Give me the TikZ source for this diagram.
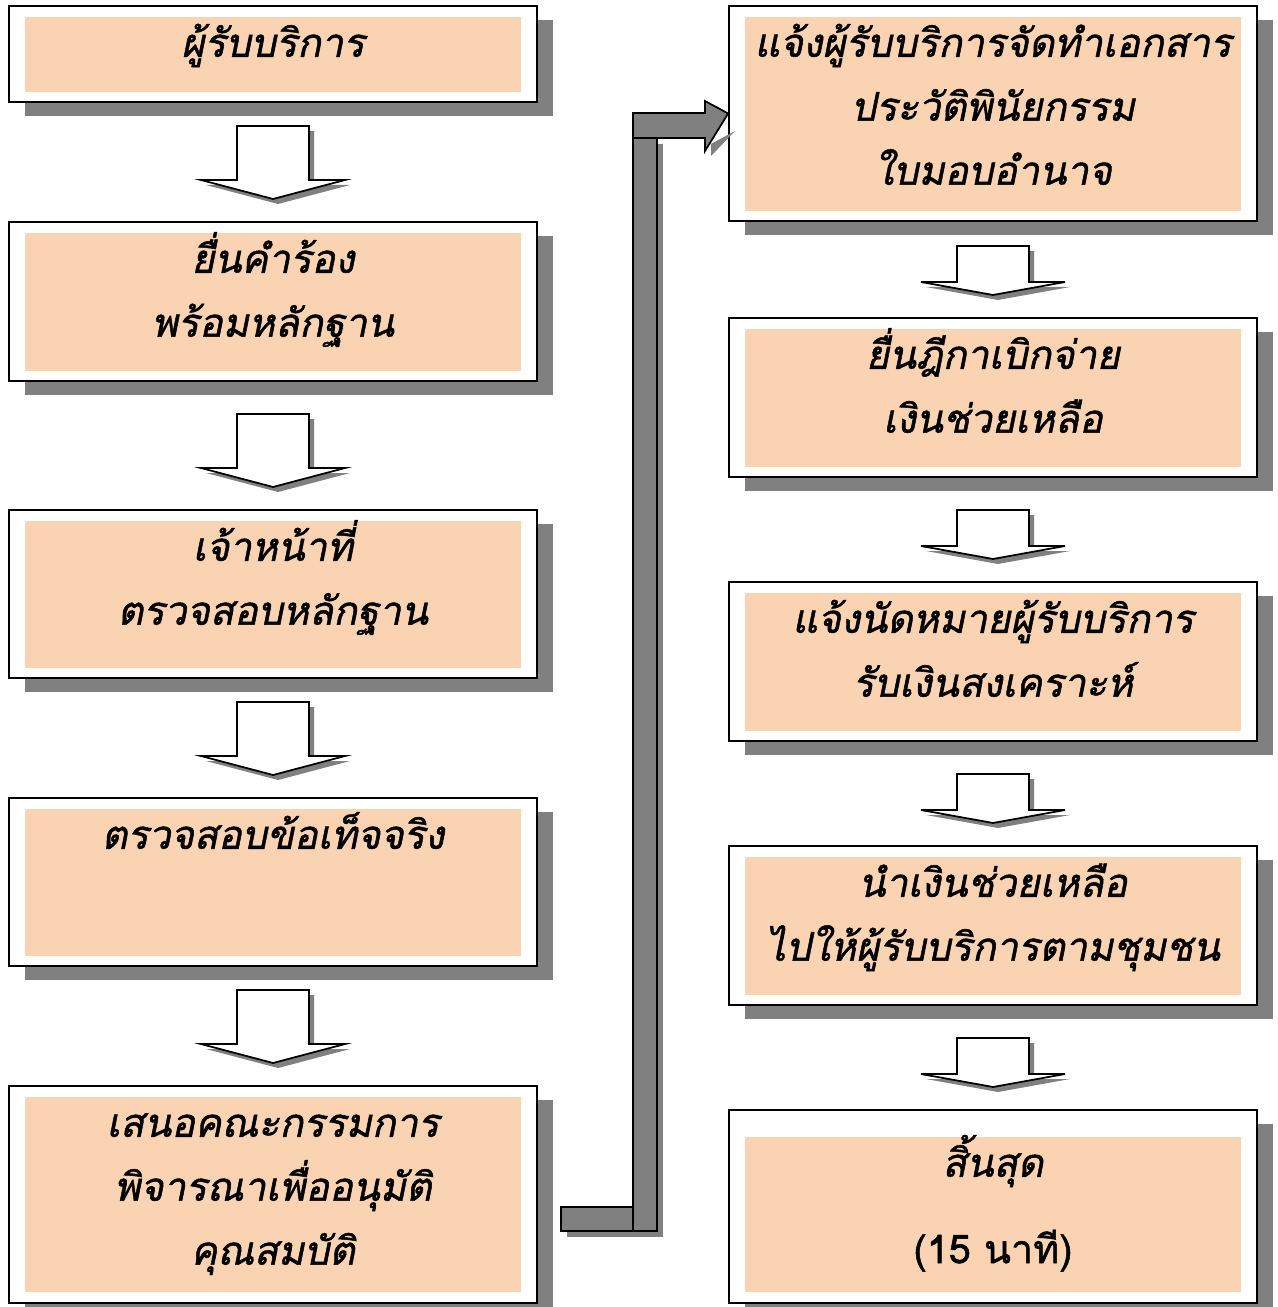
\documentclass[tikz,border=0pt]{standalone}
\usepackage{fontspec}
\newfontfamily\thaifont[Script=Thai,FakeSlant=0.2,FakeBold=1.2]{Loma}
\newfontfamily\thaiupright[Script=Thai,FakeBold=1.2]{Loma}
\usetikzlibrary{positioning}
\definecolor{peach}{RGB}{250,212,178}
\definecolor{shadowgray}{RGB}{128,128,128}
\tikzset{
  outerbox/.style={draw, line width=1.1pt, fill=white, minimum width=10.56cm, inner sep=0pt},
  innerbox/.style={fill=peach, minimum width=9.92cm, inner sep=0pt},
  boxtext/.style={font=\thaifont\fontsize{22.5}{36.4}\selectfont, align=center, anchor=north, inner sep=0pt},
  % block arrow, long (left column)
  downarrow/.pic={
    \fill[shadowgray] (-31,5) -- (41,5) -- (41,59) -- (77,59) -- (5,78) -- (-67,59) -- (-31,59) -- cycle;
    \draw[fill=white, line width=1pt] (-36,0) -- (36,0) -- (36,54) -- (72,54) -- (0,73) -- (-72,54) -- (-36,54) -- cycle;
  },
  % block arrow, short (right column)
  shortarrow/.pic={
    \fill[shadowgray] (-31,5) -- (41,5) -- (41,41) -- (77,41) -- (5,54) -- (-67,41) -- (-31,41) -- cycle;
    \draw[fill=white, line width=1pt] (-36,0) -- (36,0) -- (36,36) -- (72,36) -- (0,49) -- (-72,36) -- (-36,36) -- cycle;
  }
}
\newcommand{\flowbox}[6]{% name, x, outer top, outer bottom, inner top, inner bottom
  \fill[shadowgray] (#2-248,#3+14) rectangle (#2+280,#4+14);
  \node[outerbox, minimum height=#4*0.02cm-#3*0.02cm] (#1) at (#2,#3/2+#4/2) {};
  \node[innerbox, minimum height=#6*0.02cm-#5*0.02cm] (#1i) at (#2,#5/2+#6/2) {};
}
\begin{document}
\begin{tikzpicture}[x=0.02cm, y=-0.02cm]
  \useasboundingbox (0,0) rectangle (1277,1307);
  % left column
  \flowbox{L1}{273}{6}{102}{17}{92}
  \flowbox{L2}{273}{222}{381}{233}{371}
  \flowbox{L3}{273}{510}{678}{521}{668}
  \flowbox{L4}{273}{798}{966}{809}{956}
  \flowbox{L5}{273}{1086}{1303}{1097}{1292}
  % right column
  \flowbox{R1}{993}{6}{221}{17}{211}
  \flowbox{R2}{993}{318}{477}{329}{467}
  \flowbox{R3}{993}{582}{741}{593}{731}
  \flowbox{R4}{993}{846}{1005}{857}{995}
  \flowbox{R5}{993}{1110}{1303}{1137}{1292}
  % texts
  \node[boxtext] (L1t) at ([yshift=0.1cm]L1i.north) {\strut ผู้รับบริการ};
  \node[boxtext] (L2t) at ([yshift=0.1cm]L2i.north) {\strut ยื่นคำร้อง\\พร้อมหลักฐาน};
  \node[boxtext] (L3t) at ([yshift=0.1cm]L3i.north) {\strut เจ้าหน้าที่\\ตรวจสอบหลักฐาน};
  \node[boxtext] (L4t) at ([yshift=0.1cm]L4i.north) {\strut ตรวจสอบข้อเท็จจริง};
  \node[boxtext] (L5t) at ([yshift=0.1cm]L5i.north) {\strut เสนอคณะกรรมการ\\พิจารณาเพื่ออนุมัติ\\คุณสมบัติ};
  \node[boxtext] (R1t) at ([yshift=0.1cm]R1i.north) {\strut แจ้งผู้รับบริการจัดทำเอกสาร\\ประวัติพินัยกรรม\\ใบมอบอำนาจ};
  \node[boxtext] (R2t) at ([yshift=0.1cm]R2i.north) {\strut ยื่นฎีกาเบิกจ่าย\\เงินช่วยเหลือ};
  \node[boxtext] (R3t) at ([yshift=0.1cm]R3i.north) {\strut แจ้งนัดหมายผู้รับบริการ\\รับเงินสงเคราะห์};
  \node[boxtext] (R4t) at ([yshift=0.1cm]R4i.north) {\strut นำเงินช่วยเหลือ\\ไปให้ผู้รับบริการตามชุมชน};
  \node[boxtext] (R5t) at ([yshift=0.1cm]R5i.north) {\strut สิ้นสุด\\[0.45cm]{\thaiupright (15 นาที)}};
  % block arrows
  \foreach \y in {126,414,702,990} \pic at (273,\y) {downarrow};
  \foreach \y in {246,510,774,1038} \pic at (993,\y) {shortarrow};
  % pipe from L5 to R1
  \fill[shadowgray] (567,1213) rectangle (663,1237);
  \fill[shadowgray] (657,144) rectangle (663,1237);
  \fill[shadowgray] (711,144) -- (711,156) -- (735,131) -- cycle;
  \draw[fill=shadowgray, line width=1pt] (561,1207) rectangle (633,1231);
  \draw[fill=shadowgray, line width=1pt] (633,138) rectangle (657,1231);
  \draw[fill=shadowgray, line width=1pt] (633,113) -- (705,113) -- (705,101) -- (R1.west) -- (705,151) -- (705,138) -- (633,138) -- cycle;
\end{tikzpicture}
\end{document}
